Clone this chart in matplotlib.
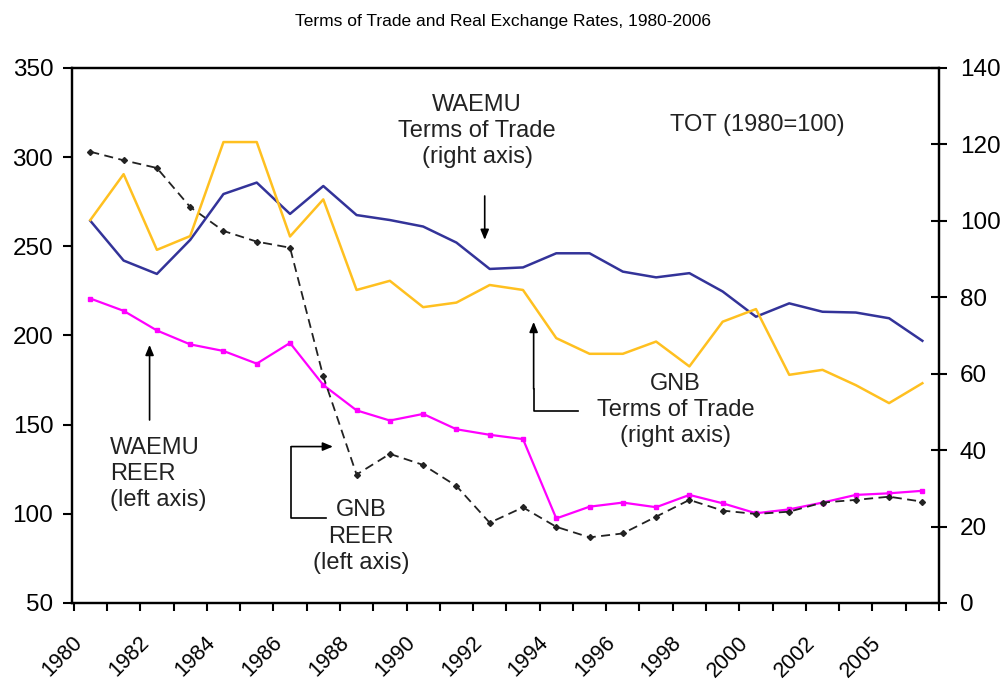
import numpy as np
import matplotlib
matplotlib.use("Agg")
import matplotlib.pyplot as plt

plt.rcParams['font.family'] = ['Liberation Sans', 'DejaVu Sans']

# data (26 periods)
tick_labels = ["1980", "1982", "1984", "1986", "1988", "1990", "1992",
               "1994", "1996", "1998", "2000", "2002", "2005"]

waemu_reer = [220.7, 213.8, 202.8, 195.0, 191.3, 184.2, 195.8, 172.2, 158.0, 152.3,
              156.0, 147.4, 144.3, 141.9, 97.4, 104.0, 106.3, 103.7, 110.6, 105.9,
              100.3, 102.5, 106.3, 110.6, 111.5, 112.9]
gnb_reer = [303.0, 298.2, 293.9, 272.0, 258.6, 252.6, 249.2, 177.0, 122.0, 133.6,
            127.4, 115.6, 95.0, 103.6, 92.7, 86.8, 89.0, 98.4, 107.8, 101.8,
            99.9, 101.2, 106.3, 107.8, 109.6, 106.8]
waemu_tot = [100.0, 89.6, 86.1, 95.0, 107.0, 110.0, 101.8, 109.1, 101.5, 100.2,
             98.5, 94.3, 87.4, 87.8, 91.5, 91.5, 86.7, 85.2, 86.3, 81.5,
             74.9, 78.4, 76.2, 76.0, 74.5, 68.6]
gnb_tot = [100.2, 112.2, 92.4, 96.0, 120.6, 120.6, 95.9, 105.6, 81.9, 84.3,
           77.4, 78.6, 83.2, 81.9, 69.3, 65.2, 65.2, 68.4, 61.9, 73.6,
           76.9, 59.7, 61.0, 57.0, 52.3, 57.5]

x = np.arange(len(waemu_reer))

fig = plt.figure(figsize=(10.06, 6.86), dpi=100)
ax = fig.add_axes([0.0716, 0.121, 0.8618, 0.780])
ax2 = ax.twinx()

# left axis: REER
ax.plot(x, waemu_reer, color="#ff00ff", lw=1.6, marker="s", ms=2.5)
ax.plot(x, gnb_reer, color="#222222", lw=1.3, ls=(0, (5, 3)), marker="D", ms=3)

# right axis: terms of trade
ax2.plot(x, waemu_tot, color="#333399", lw=1.8)
ax2.plot(x, gnb_tot, color="#ffc020", lw=1.8)

ax.set_xlim(-0.5, len(x) - 0.5)
ax.set_ylim(50, 350)
ax2.set_ylim(0, 140)
ax.set_yticks(np.arange(50, 351, 50))
ax2.set_yticks(np.arange(0, 141, 20))

# category axis: ticks on boundaries, labels every other period
# (label anchors nudged left so the rotated text ends just before its category)
ax.set_xticks(np.arange(-0.5, len(x), 1))
ax.set_xticklabels([])
ax.set_xticks(np.arange(0, len(x), 2)[:len(tick_labels)] - 0.55, minor=True)
ax.set_xticklabels(tick_labels, minor=True, rotation=45, ha="right", va="top",
                   rotation_mode="anchor", fontsize=15.5)
ax.tick_params(axis="x", which="major", direction="out", length=6, width=1.5)
ax.tick_params(axis="x", which="minor", length=0, pad=21)
ax.tick_params(axis="y", direction="out", length=6.5, width=1.5, labelsize=17.5, pad=7)
ax2.tick_params(axis="y", direction="inout", length=12, width=1.5, labelsize=17.5, pad=9)

for a in (ax, ax2):
    for s in a.spines.values():
        s.set_linewidth(1.6)

fig.text(0.5, 0.968, "Terms of Trade and Real Exchange Rates, 1980-2006",
         ha="center", va="center", fontsize=12.5)

# annotations
txt = dict(fontsize=17, color="#222222", linespacing=1.25)
arr = dict(arrowstyle="-|>,head_length=0.6,head_width=0.25", color="black",
           lw=1.2, shrinkA=0, shrinkB=0)

ax.text(11.62, 314.7, "WAEMU\nTerms of Trade\n(right axis)", ha="center", va="center", **txt)
ax.annotate("", xy=(11.85, 253.6), xytext=(11.85, 278.2), arrowprops=arr)

ax.text(20.05, 318, "TOT (1980=100)", ha="center", va="center", **txt)

ax.text(0.58, 122.4, "WAEMU\nREER\n(left axis)", ha="left", va="center", **txt)
ax.annotate("", xy=(1.78, 194.7), xytext=(1.78, 152.6), arrowprops=arr)

ax.text(8.14, 87.2, "GNB\nREER\n(left axis)", ha="center", va="center", **txt)
ax.plot([7.09, 6.04, 6.04], [97.5, 97.5, 137.7], color="black", lw=1.2)
ax.annotate("", xy=(7.29, 137.7), xytext=(6.04, 137.7), arrowprops=arr)

ax.text(17.58, 158.2, "GNB\nTerms of Trade\n(right axis)", ha="center", va="center", **txt)
ax.plot([14.64, 13.32, 13.32], [157.7, 157.7, 170], color="black", lw=1.2)
ax.annotate("", xy=(13.32, 207.6), xytext=(13.32, 170), arrowprops=arr)

fig.savefig("out.png", dpi=100)
